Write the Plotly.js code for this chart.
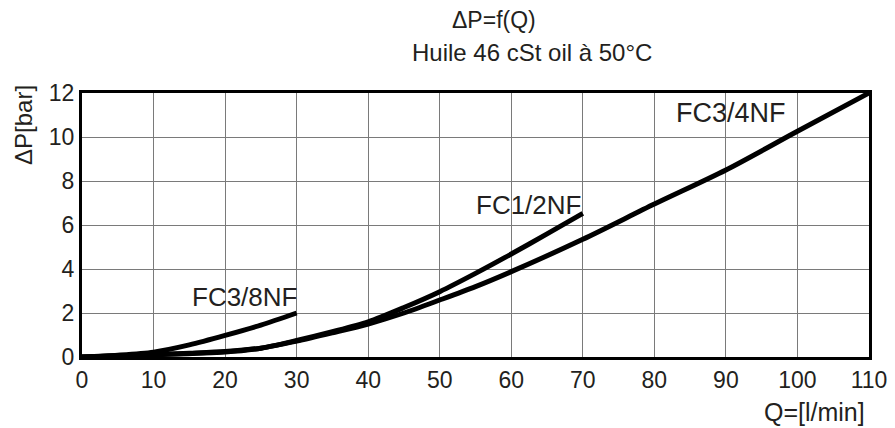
<!DOCTYPE html>
<html>
<head>
<meta charset="utf-8">
<script src="https://cdn.plot.ly/plotly-3.0.1.min.js"></script>
<style>html,body{margin:0;padding:0;background:#fff;}#chart{width:895px;height:428px;}</style>
</head>
<body>
<div id="chart"></div>
<script>
// Q [l/min] and ΔP [bar]
const q38 = [0, 5, 10, 15, 20, 25, 30];
const p38 = [0, 0.08, 0.22, 0.55, 0.98, 1.45, 2.0];

const q12 = [0, 5, 10, 15, 20, 25, 30, 35, 40, 45, 50, 55, 60, 65, 70];
const p12 = [0, 0.05, 0.1, 0.17, 0.25, 0.4, 0.75, 1.15, 1.6, 2.25, 2.97, 3.8, 4.68, 5.6, 6.53];

const q34 = [0, 10, 20, 25, 30, 35, 40, 45, 50, 55, 60, 70, 80, 90, 100, 110];
const p34 = [0, 0.1, 0.23, 0.4, 0.72, 1.1, 1.5, 2.0, 2.59, 3.2, 3.88, 5.35, 6.95, 8.5, 10.26, 12.0];

const seriesNames = ["FC3/8NF", "FC1/2NF", "FC3/4NF"];
const xTicks = [0, 10, 20, 30, 40, 50, 60, 70, 80, 90, 100, 110];
const yTicks = [0, 2, 4, 6, 8, 10, 12];

const txt = "#231f20";
const font = "Liberation Sans, Arial, sans-serif";

const lineStyle = {color: "#000", width: 5, shape: "spline", smoothing: 0.8};
const traces = [
  {x: q38, y: p38, name: seriesNames[0], mode: "lines", line: lineStyle, hoverinfo: "x+y"},
  {x: q12, y: p12, name: seriesNames[1], mode: "lines", line: lineStyle, hoverinfo: "x+y"},
  {x: q34, y: p34, name: seriesNames[2], mode: "lines", line: lineStyle, hoverinfo: "x+y"}
];

const layout = {
  width: 895, height: 428,
  margin: {l: 82, r: 26, t: 93, b: 71},
  paper_bgcolor: "#fff", plot_bgcolor: "#fff",
  showlegend: false,
  font: {family: font, color: txt, size: 22},
  xaxis: {
    range: [0, 110], tickvals: xTicks, ticktext: xTicks.map(String),
    showgrid: true, gridcolor: "#7a7a7a", gridwidth: 1,
    showline: true, linecolor: "#000", linewidth: 3, mirror: true,
    zeroline: false, ticks: "", ticklabelstandoff: 0,
    tickfont: {size: 23, color: txt, family: font}
  },
  yaxis: {
    range: [0, 12], tickvals: yTicks, ticktext: yTicks.map(String),
    showgrid: true, gridcolor: "#7a7a7a", gridwidth: 1,
    showline: true, linecolor: "#000", linewidth: 3, mirror: true,
    zeroline: false, ticks: "", ticklabelstandoff: 0,
    tickfont: {size: 23, color: txt, family: font}
  },
  annotations: [
    {text: "\u0394P=f(Q)", xref: "paper", yref: "paper", x: (494 - 82) / 787, y: (357 - 20) / 264, xanchor: "center", yanchor: "middle", showarrow: false, font: {size: 23, color: txt}},
    {text: "Huile 46 cSt oil à 50°C", xref: "paper", yref: "paper", x: (532 - 82) / 787, y: (357 - 52) / 264, xanchor: "center", yanchor: "middle", showarrow: false, font: {size: 24, color: txt}},
    {text: "\u0394P[bar]", xref: "paper", yref: "paper", x: (23 - 82) / 787, y: (357 - 125) / 264, xanchor: "center", yanchor: "middle", textangle: -90, showarrow: false, font: {size: 24, color: txt}},
    {text: "Q=[l/min]", xref: "paper", yref: "paper", x: (867 - 82) / 787, y: (357 - 412) / 264, xanchor: "right", yanchor: "middle", showarrow: false, font: {size: 25, color: txt}},
    {text: seriesNames[0], xref: "paper", yref: "paper", x: (190 - 82) / 787, y: (357 - 297) / 264, xanchor: "left", yanchor: "middle", showarrow: false, font: {size: 26, color: txt}},
    {text: seriesNames[1], xref: "paper", yref: "paper", x: (474 - 82) / 787, y: (357 - 205) / 264, xanchor: "left", yanchor: "middle", showarrow: false, font: {size: 26, color: txt}},
    {text: seriesNames[2], xref: "paper", yref: "paper", x: (674 - 82) / 787, y: (357 - 113) / 264, xanchor: "left", yanchor: "middle", showarrow: false, font: {size: 27, color: txt}}
  ]
};

Plotly.newPlot("chart", traces, layout, {staticPlot: true, displayModeBar: false});
</script>
</body>
</html>
